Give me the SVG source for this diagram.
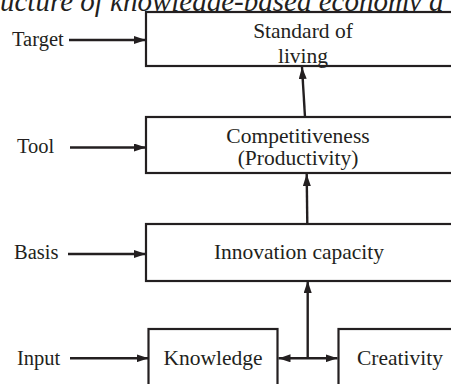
<svg xmlns="http://www.w3.org/2000/svg" width="451" height="384" viewBox="0 0 451 384">
<style>
.box{fill:#fff;stroke:#231f20;stroke-width:2.2}
.t{font-family:"Liberation Serif","Times New Roman",serif;font-size:21.5px;fill:#231f20}
.lab{font-family:"Liberation Serif","Times New Roman",serif;font-size:20.5px;fill:#231f20}
.ttl{font-family:"Liberation Serif","Times New Roman",serif;font-size:29px;font-style:italic;fill:#231f20}
.c{stroke:#231f20;stroke-width:2.4;fill:none}
</style>
<defs>
<marker id="ah" viewBox="0 0 12 8" refX="12" refY="4" markerWidth="12" markerHeight="8" markerUnits="userSpaceOnUse" orient="auto-start-reverse">
<path d="M0,0 L12,4 L0,8 Z" fill="#231f20"/>
</marker>
</defs>
<rect width="451" height="384" fill="#fff"/>
<text class="ttl" x="0" y="10.5">ucture of knowledge-based economy a</text>
<g id="standard">
<rect class="box" x="146" y="12" width="310" height="54"/>
<text class="t" x="303" y="37.5" text-anchor="middle">Standard of</text>
<text class="t" x="303" y="63" text-anchor="middle">living</text>
</g>
<g id="competitiveness">
<rect class="box" x="146" y="117" width="310" height="56"/>
<text class="t" x="298" y="143" text-anchor="middle">Competitiveness</text>
<text class="t" x="298" y="164.5" text-anchor="middle">(Productivity)</text>
</g>
<g id="innovation">
<rect class="box" x="146" y="224" width="310" height="57"/>
<text class="t" x="299" y="259" text-anchor="middle">Innovation capacity</text>
</g>
<g id="knowledge">
<rect class="box" x="148.5" y="329" width="129" height="70"/>
<text class="t" x="213" y="365" text-anchor="middle">Knowledge</text>
</g>
<g id="creativity">
<rect class="box" x="338.5" y="329" width="130" height="70"/>
<text class="t" x="357" y="365">Creativity</text>
</g>
<g id="labels">
<text class="lab" x="12" y="45.5">Target</text>
<text class="lab" x="17" y="152.5">Tool</text>
<text class="lab" x="14" y="259">Basis</text>
<text class="lab" x="17" y="365">Input</text>
</g>
<g id="connectors">
<line class="c" x1="69" y1="40" x2="146" y2="40" marker-end="url(#ah)"/>
<line class="c" x1="70" y1="147.5" x2="146" y2="147.5" marker-end="url(#ah)"/>
<line class="c" x1="68" y1="254" x2="146" y2="254" marker-end="url(#ah)"/>
<line class="c" x1="70" y1="358.3" x2="148.5" y2="358.3" marker-end="url(#ah)"/>
<line class="c" x1="305" y1="117" x2="302" y2="67" marker-end="url(#ah)"/>
<line class="c" x1="307.3" y1="224" x2="306.7" y2="174" marker-end="url(#ah)"/>
<line class="c" x1="307.7" y1="358.3" x2="307.7" y2="281" marker-end="url(#ah)"/>
<line class="c" x1="278.5" y1="358.3" x2="337.5" y2="358.3" marker-start="url(#ah)" marker-end="url(#ah)"/>
</g>
</svg>
